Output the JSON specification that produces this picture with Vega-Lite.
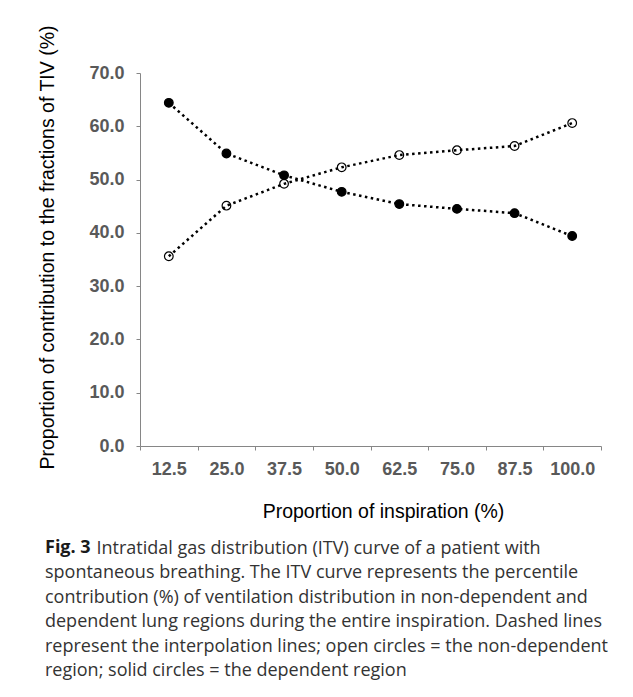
{
  "$schema": "https://vega.github.io/schema/vega-lite/v6.json",
  "autosize": "none",
  "width": 461,
  "height": 373,
  "padding": {"left": 140, "top": 73, "right": 32, "bottom": 251},
  "background": "white",
  "title": {
    "text": "Fig. 3",
    "subtitle": [
      "\u200b\u00a0\u00a0\u00a0\u00a0\u00a0\u00a0\u00a0\u00a0\u00a0\u00a0\u00a0Intratidal gas distribution (ITV) curve of a patient with",
      "spontaneous breathing. The ITV curve represents the percentile",
      "contribution (%) of ventilation distribution in non-dependent and",
      "dependent lung regions during the entire inspiration. Dashed lines",
      "represent the interpolation lines; open circles = the non-dependent",
      "region; solid circles = the dependent region"
    ],
    "orient": "bottom",
    "anchor": "start",
    "frame": "group",
    "dx": -95,
    "offset": 18,
    "font": "Open Sans",
    "fontSize": 18,
    "fontWeight": "bold",
    "color": "#1a1a1a",
    "subtitleFont": "Open Sans",
    "subtitleFontSize": 18,
    "subtitleFontWeight": "normal",
    "subtitleColor": "#333333",
    "subtitleLineHeight": 24.5,
    "subtitlePadding": -17
  },
  "data": {
    "values": [
      {"x": "12.5", "region": "non-dependent", "v": 35.6},
      {"x": "25.0", "region": "non-dependent", "v": 45.1},
      {"x": "37.5", "region": "non-dependent", "v": 49.2},
      {"x": "50.0", "region": "non-dependent", "v": 52.3},
      {"x": "62.5", "region": "non-dependent", "v": 54.6},
      {"x": "75.0", "region": "non-dependent", "v": 55.5},
      {"x": "87.5", "region": "non-dependent", "v": 56.3},
      {"x": "100.0", "region": "non-dependent", "v": 60.6},
      {"x": "12.5", "region": "dependent", "v": 64.4},
      {"x": "25.0", "region": "dependent", "v": 54.9},
      {"x": "37.5", "region": "dependent", "v": 50.8},
      {"x": "50.0", "region": "dependent", "v": 47.7},
      {"x": "62.5", "region": "dependent", "v": 45.4},
      {"x": "75.0", "region": "dependent", "v": 44.5},
      {"x": "87.5", "region": "dependent", "v": 43.7},
      {"x": "100.0", "region": "dependent", "v": 39.4}
    ]
  },
  "encoding": {
    "x": {
      "field": "x",
      "type": "ordinal",
      "sort": null,
      "scale": {"type": "band", "paddingInner": 0, "paddingOuter": 0},
      "axis": {
        "title": "Proportion of inspiration (%)",
        "titleFont": "Liberation Sans",
        "titleFontSize": 19.5,
        "titleFontWeight": "normal",
        "titleColor": "#000000",
        "titleX": 243,
        "titleY": 65,
        "titleBaseline": "middle",
        "titleAlign": "center",
        "labelAngle": 0,
        "labelFont": "Liberation Sans",
        "labelFontSize": 18,
        "labelFontWeight": "bold",
        "labelColor": "#595959",
        "labelPadding": 10,
        "tickBand": "extent",
        "tickSize": 4,
        "tickColor": "#868686",
        "domainColor": "#868686",
        "grid": false
      }
    },
    "y": {
      "field": "v",
      "type": "quantitative",
      "scale": {"domain": [0, 70], "nice": false},
      "axis": {
        "values": [0, 10, 20, 30, 40, 50, 60, 70],
        "format": ".1f",
        "title": "Proportion of contribution to the fractions of TIV (%)",
        "titleFont": "Liberation Sans",
        "titleFontSize": 19.5,
        "titleFontWeight": "normal",
        "titleColor": "#000000",
        "titleX": -93,
        "titleY": 174,
        "titleAngle": 270,
        "titleBaseline": "middle",
        "titleAlign": "center",
        "labelFont": "Liberation Sans",
        "labelFontSize": 18,
        "labelFontWeight": "bold",
        "labelColor": "#595959",
        "labelPadding": 12,
        "tickSize": 4,
        "tickColor": "#868686",
        "domainColor": "#868686",
        "grid": false
      }
    }
  },
  "layer": [
    {
      "mark": {"type": "line", "color": "black", "strokeWidth": 2.5, "strokeDash": [2.5, 3.5]},
      "encoding": {"detail": {"field": "region"}}
    },
    {
      "mark": {"type": "point", "size": 75, "stroke": "black", "strokeWidth": 1.2, "opacity": 1},
      "encoding": {
        "fill": {
          "field": "region",
          "type": "nominal",
          "scale": {"domain": ["dependent", "non-dependent"], "range": ["black", "transparent"]},
          "legend": null
        }
      }
    }
  ],
  "config": {"view": {"stroke": null}}
}
